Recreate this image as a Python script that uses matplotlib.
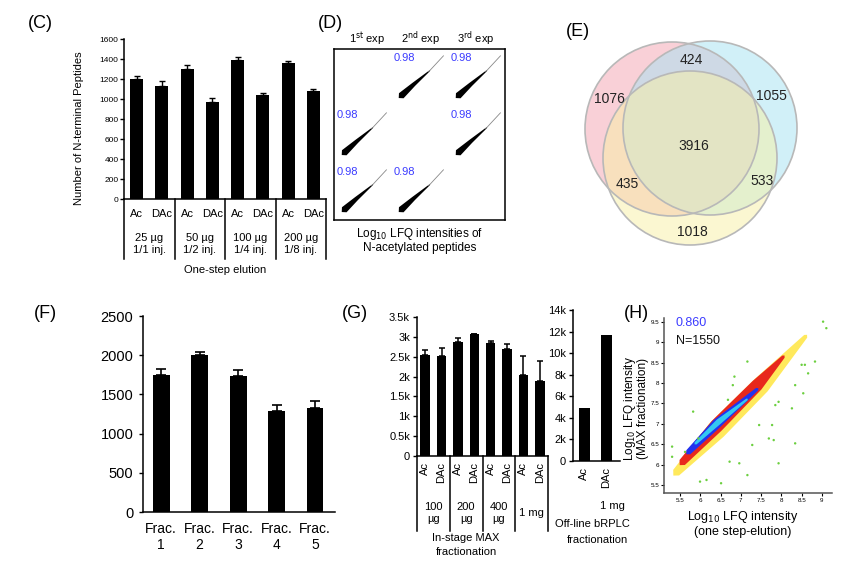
"""Multi-panel figure (C)-(H): N-terminal peptide counts, LFQ correlations, Venn."""
import matplotlib
matplotlib.use('Agg')
import matplotlib.pyplot as plt
import numpy as np
from matplotlib import transforms
from matplotlib.patches import Circle, Polygon

plt.rcParams['font.family'] = ['Liberation Sans', 'DejaVu Sans']
plt.rcParams['axes.linewidth'] = 1.1

# ---------------- data ----------------
C_bar_labels = ['Ac', 'DAc'] * 4
C_groups = ['25 µg\n1/1 inj.', '50 µg\n1/2 inj.', '100 µg\n1/4 inj.', '200 µg\n1/8 inj.']
C_vals = [1200, 1135, 1300, 970, 1390, 1040, 1360, 1085]
C_err = [30, 50, 45, 45, 35, 25, 25, 20]

D_cells = [(0, 1), (0, 2), (1, 0), (1, 2), (2, 0), (2, 1)]   # (row, col) of filled cells
D_r = [0.98, 0.98, 0.98, 0.98, 0.98, 0.98]
D_headers = ['1$^{\\rm st}$ exp', '2$^{\\rm nd}$ exp', '3$^{\\rm rd}$ exp']

E_only = [1076, 1055, 1018]          # red, blue, yellow only
E_pairs = [424, 435, 533]            # red&blue, red&yellow, blue&yellow
E_all = 3916

F_labels = ['Frac.\n1', 'Frac.\n2', 'Frac.\n3', 'Frac.\n4', 'Frac.\n5']
F_vals = [1750, 2005, 1735, 1290, 1325]
F_err = [70, 30, 70, 75, 90]

G_bar_labels = ['Ac', 'DAc'] * 4
G_groups = ['100\nµg', '200\nµg', '400\nµg', '1 mg']
G_vals = [2550, 2520, 2870, 3080, 2850, 2700, 2030, 1890]
G_err = [125, 200, 100, 0, 45, 125, 480, 495]
G2_labels = ['Ac', 'DAc']
G2_vals = [4950, 11700]

H_r = 0.860
H_n = 1550
# density bands along the diagonal (centre line x, y and half width), from outer to inner
H_band_x = [[5.40, 6.40, 7.50, 8.60], [5.55, 6.40, 7.40, 8.05],
            [5.70, 6.40, 7.40], [5.88, 6.45, 7.15]]
H_band_y = [[5.80, 6.85, 7.95, 9.15], [6.05, 6.95, 7.95, 8.65],
            [6.30, 7.00, 7.85], [6.52, 7.05, 7.60]]
H_band_w = [[0.10, 0.24, 0.22, 0.05], [0.09, 0.17, 0.15, 0.04],
            [0.07, 0.12, 0.04], [0.035, 0.07, 0.025]]
H_band_c = ['#ffe95c', '#e8281c', '#2233ee', '#33c8f2']
H_out_x = [9.03, 9.11, 8.58, 8.66, 8.83, 8.34, 8.54, 8.26, 7.93, 7.85, 7.77, 7.69, 7.81,
           7.45, 7.28, 7.93, 7.16, 6.84, 6.80, 6.68, 5.82, 5.95, 5.62, 6.72, 6.96, 7.16,
           6.51, 6.15, 5.99, 5.30, 5.30, 8.34, 8.50]
H_out_y = [9.51, 9.35, 8.45, 8.24, 8.53, 7.95, 7.75, 7.38, 7.54, 7.46, 6.97, 6.64, 6.60,
           6.97, 6.48, 6.03, 8.53, 8.16, 7.95, 7.59, 7.30, 6.64, 6.31, 6.07, 6.03, 5.74,
           5.54, 5.62, 5.58, 6.44, 6.19, 6.52, 8.45]

# ---------------- helpers ----------------
W, H = 855, 566
fig = plt.figure(figsize=(W / 100, H / 100), dpi=100)


def add_ax(l, t, r, b):
    return fig.add_axes([l / W, 1 - b / H, (r - l) / W, (b - t) / H])


def ftext(x, y, s, **kw):
    fig.text(x / W, 1 - y / H, s, **kw)


def fy(py):
    return 1 - py / H


def band(ax, xs, ys, hw, **kw):
    pts = np.column_stack([xs, ys]).astype(float)
    d = np.gradient(pts, axis=0)
    d /= np.hypot(d[:, 0], d[:, 1])[:, None]
    n = np.column_stack([-d[:, 1], d[:, 0]]) * np.asarray(hw)[:, None]
    tip0 = pts[0] - d[0] * hw[0]
    tip1 = pts[-1] + d[-1] * hw[-1]
    poly = np.vstack([[tip0], pts + n, [tip1], (pts - n)[::-1]])
    ax.add_patch(Polygon(poly, closed=True, lw=0, **kw))


def bar_style(ax):
    for s in ('top', 'right'):
        ax.spines[s].set_visible(False)
    ax.tick_params(axis='y', direction='out', length=3, width=1)
    ax.tick_params(axis='x', length=0)


def table(ax, labels, groups, y_lab, y_grp, y_bot, rot=0, fs=8):
    bl = transforms.blended_transform_factory(ax.transData, fig.transFigure)
    y0 = ax.get_position().y0
    for x in np.arange(-0.5, len(labels), 2):
        ax.plot([x, x], [y0, fy(y_bot)], color='k', lw=1.1, transform=bl, clip_on=False)
    for i, lab in enumerate(labels):
        ax.text(i, fy(y_lab), lab, transform=bl, ha='center',
                va='top' if rot else 'center', rotation=rot, fontsize=fs)
    for j, g in enumerate(groups):
        ax.text(2 * j + 0.5, fy(y_grp), g, transform=bl, ha='center', va='center',
                fontsize=fs, linespacing=1.15)


# ---------------- (C) ----------------
ax = add_ax(124, 39, 326, 199)
x = np.arange(len(C_vals))
ax.bar(x, C_vals, width=0.52, color='k')
ax.errorbar(x, C_vals, yerr=[np.zeros(len(C_err)), C_err], fmt='none',
            ecolor='k', elinewidth=1, capsize=2.5, capthick=1)
ax.set_xlim(-0.5, 7.5)
ax.set_ylim(0, 1600)
ax.set_yticks(range(0, 1601, 200))
ax.tick_params(axis='y', labelsize=6, pad=1)
ax.set_xticks([])
bar_style(ax)
table(ax, C_bar_labels, C_groups, 214, 244, 259, fs=8)
ftext(225, 270, 'One-step elution', ha='center', va='center', fontsize=8)
ftext(79, 128, 'Number of N-terminal Peptides', rotation=90, ha='center', va='center', fontsize=8)
ftext(40, 24, '(C)', ha='center', va='center', fontsize=13)

# ---------------- (D) ----------------
ax = add_ax(334, 49, 505, 220)
ax.set_xlim(0, 3)
ax.set_ylim(0, 3)
ax.set_xticks([])
ax.set_yticks([])
for (row, col), r in zip(D_cells, D_r):
    x0, y0 = col, 2 - row
    band(ax, [x0 + 0.18, x0 + 0.40, x0 + 0.68], [y0 + 0.18, y0 + 0.38, y0 + 0.62],
         [0.06, 0.035, 0.008], color='k')
    ax.plot([x0 + 0.66, x0 + 0.92], [y0 + 0.60, y0 + 0.88], color='#888', lw=0.6)
    ax.text(x0 + 0.05, y0 + 0.85, f'{r:.2f}', color='#3b3bff', fontsize=8,
            ha='left', va='center')
for i, h in enumerate(D_headers):
    ftext([367, 421, 476][i], 39, h, ha='center', va='center', fontsize=8)
ftext(420, 234, 'Log$_{10}$ LFQ intensities of', ha='center', va='center', fontsize=8.5)
ftext(420, 248, 'N-acetylated peptides', ha='center', va='center', fontsize=8.5)
ftext(330, 24, '(D)', ha='center', va='center', fontsize=13)

# ---------------- (E) ----------------
ax = add_ax(560, 20, 820, 280)
ax.set_xlim(560, 820)
ax.set_ylim(280, 20)
ax.axis('off')
for (cx, cy), fc in zip([(672, 129), (710, 128), (690, 158)],
                        ['#f4a3b0', '#a5e3f3', '#f8f0a4']):
    ax.add_patch(Circle((cx, cy), 87, facecolor=fc, alpha=0.5, edgecolor='none'))
for (cx, cy) in [(672, 129), (710, 128), (690, 158)]:
    ax.add_patch(Circle((cx, cy), 87, facecolor='none', edgecolor='#b8b8b8', lw=1.2))
for v, (px, py) in zip(E_only, [(609, 99), (771, 96), (692, 232)]):
    ax.text(px, py, str(v), ha='center', va='center', fontsize=10, color='#222')
for v, (px, py) in zip(E_pairs, [(691, 60), (627, 184), (762, 181)]):
    ax.text(px, py, str(v), ha='center', va='center', fontsize=10, color='#222')
ax.text(694, 146, str(E_all), ha='center', va='center', fontsize=10, color='#222')
ftext(578, 31, '(E)', ha='center', va='center', fontsize=13)

# ---------------- (F) ----------------
ax = add_ax(143, 316, 335, 512)
x = np.arange(len(F_vals))
ax.bar(x, F_vals, width=0.44, color='k')
ax.errorbar(x, F_vals, yerr=[np.zeros(len(F_err)), F_err], fmt='none',
            ecolor='k', elinewidth=1.2, capsize=3.5, capthick=1.2)
ax.set_xlim(-0.47, 4.52)
ax.set_ylim(0, 2500)
ax.set_yticks(range(0, 2501, 500))
ax.set_xticks(x)
ax.set_xticklabels(F_labels, fontsize=10, linespacing=1.2)
ax.tick_params(axis='y', labelsize=10.5, pad=4)
ax.tick_params(axis='x', pad=7)
bar_style(ax)
ftext(45, 313, '(F)', ha='center', va='center', fontsize=13)

# ---------------- (G) ----------------
ax = add_ax(417, 317, 548, 456)
x = np.arange(len(G_vals))
ax.bar(x, G_vals, width=0.58, color='k')
ax.errorbar(x, G_vals, yerr=[np.zeros(len(G_err)), G_err], fmt='none',
            ecolor='k', elinewidth=1.1, capsize=2.5, capthick=1.1)
ax.set_xlim(-0.5, 7.5)
ax.set_ylim(0, 3500)
ax.set_yticks(range(0, 3501, 500))
ax.set_yticklabels(['0', '0.5k', '1k', '1.5k', '2k', '2.5k', '3k', '3.5k'])
ax.tick_params(axis='y', labelsize=8, pad=2)
ax.set_xticks([])
bar_style(ax)
table(ax, G_bar_labels, G_groups, 462, 513, 531, rot=90, fs=8)
ftext(466, 538, 'In-stage MAX', ha='center', va='center', fontsize=8)
ftext(466, 552, 'fractionation', ha='center', va='center', fontsize=8)
ftext(355, 314, '(G)', ha='center', va='center', fontsize=13)

ax = add_ax(573, 310, 620, 461)
x = np.arange(len(G2_vals))
ax.bar(x, G2_vals, width=0.48, color='k')
ax.set_xlim(-0.5, 1.6)
ax.set_ylim(0, 14000)
ax.set_yticks(range(0, 14001, 2000))
ax.set_yticklabels(['0'] + [f'{k}k' for k in range(2, 15, 2)])
ax.tick_params(axis='y', labelsize=8, pad=2)
ax.set_xticks([])
bar_style(ax)
bl = transforms.blended_transform_factory(ax.transData, fig.transFigure)
for i, lab in enumerate(G2_labels):
    ax.text(i, fy(467), lab, transform=bl, rotation=90, ha='center', va='top', fontsize=8)
ftext(612, 506, '1 mg', ha='center', va='center', fontsize=8)
ftext(592, 524, 'Off-line bRPLC', ha='center', va='center', fontsize=8)
ftext(597, 540, 'fractionation', ha='center', va='center', fontsize=8)

# ---------------- (H) ----------------
ax = add_ax(664, 318, 832, 493)
ax.set_xlim(5.1, 9.25)
ax.set_ylim(5.3, 9.6)
for xs, ys, hw, c in zip(H_band_x, H_band_y, H_band_w, H_band_c):
    band(ax, xs, ys, hw, color=c)
ax.scatter(H_out_x, H_out_y, s=3, color='#6ccf3f', edgecolors='none')
ax.set_xticks(np.arange(5.5, 9.01, 0.5))
ax.set_xticklabels(['5.5', '6', '6.5', '7', '7.5', '8', '8.5', '9'])
ax.set_yticks(np.arange(5.5, 9.51, 0.5))
ax.set_yticklabels(['5.5', '6', '6.5', '7', '7.5', '8', '8.5', '9', '9.5'])
ax.tick_params(labelsize=4.5, length=2, pad=1.5)
for s in ('top', 'right'):
    ax.spines[s].set_visible(False)
ax.spines['left'].set_color('#555')
ax.spines['bottom'].set_color('#555')
ax.text(0.07, 0.97, f'{H_r:.3f}', transform=ax.transAxes, color='#3b3bff',
        fontsize=9, ha='left', va='center')
ax.text(0.07, 0.87, f'N={H_n}', transform=ax.transAxes, color='#111',
        fontsize=9, ha='left', va='center')
ftext(743, 517, 'Log$_{10}$ LFQ intensity', ha='center', va='center', fontsize=9)
ftext(743, 532, '(one step-elution)', ha='center', va='center', fontsize=9)
ftext(630, 408, 'Log$_{10}$ LFQ intensity', rotation=90, ha='center', va='center', fontsize=8.5)
ftext(643, 408, '(MAX fractionation)', rotation=90, ha='center', va='center', fontsize=8.5)
ftext(636, 314, '(H)', ha='center', va='center', fontsize=13)

fig.savefig('out.png', dpi=100)
